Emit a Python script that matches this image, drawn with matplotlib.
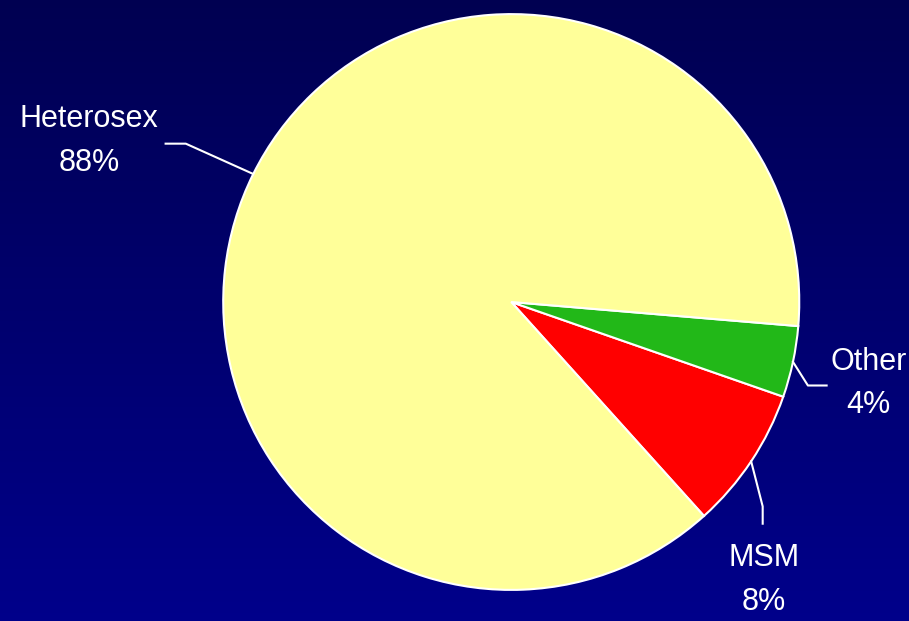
import numpy as np
import matplotlib.pyplot as plt
from matplotlib.colors import LinearSegmentedColormap

# data
labels = ['MSM', 'Other', 'Heterosex']
values = [8, 4, 88]
colors = ['#ff0000', '#22b818', '#ffff99']

XL = (-1.775, 1.381)
YL = (-1.108, 1.049)

fig = plt.figure(figsize=(9.09, 6.21), dpi=100)
ax = fig.add_axes([0, 0, 1, 1])
ax.axis('off')

# background gradient
bg = LinearSegmentedColormap.from_list('bg', ['#00008c', '#000050'])
grad = np.linspace(0, 1, 256).reshape(-1, 1)
ax.imshow(grad, extent=(XL[0] - 0.05, XL[1] + 0.05, YL[0] - 0.05, YL[1] + 0.05),
          cmap=bg, aspect='auto', origin='lower', zorder=0)

wedges, _ = ax.pie(values, colors=colors, startangle=-48, radius=1.0,
                   wedgeprops=dict(edgecolor='white', linewidth=1.5),
                   frame=False)
ax.set_xlim(*XL)
ax.set_ylim(*YL)
ax.set_aspect('auto')

# label placement: (elbow point, line end, text pos)
place = {
    'Heterosex': ((-1.13, 0.55), (-1.20, 0.55), (-1.465, 0.56)),
    'Other': ((1.03, -0.29), (1.095, -0.29), (1.240, -0.283)),
    'MSM': ((0.873, -0.71), (0.873, -0.77), (0.878, -0.965)),
}

for w, lab, v in zip(wedges, labels, values):
    ang = np.deg2rad((w.theta1 + w.theta2) / 2)
    ex, ey = np.cos(ang), np.sin(ang)
    (bx, by), (cx, cy), (tx, ty) = place[lab]
    ax.plot([ex, bx, cx], [ey, by, cy], color='white', lw=1.5, zorder=3)
    ax.text(tx, ty, f'{lab}\n{v}%', color='white', fontsize=22,
            family='Liberation Sans', ha='center', va='center',
            linespacing=1.6, zorder=4)

fig.savefig('out.png', dpi=100)
